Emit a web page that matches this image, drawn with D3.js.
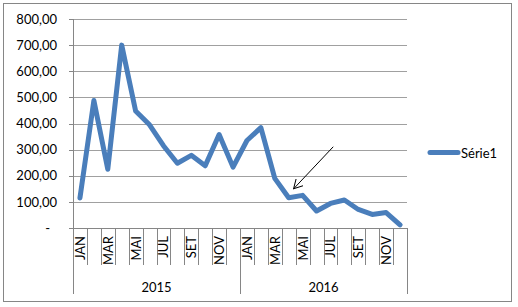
<!DOCTYPE html>
<html>
<head>
<meta charset="utf-8">
<script src="https://cdn.jsdelivr.net/npm/d3@7"></script>
<style>
  html, body { margin: 0; padding: 0; background: #fff; }
  svg text { font-family: Lato, "Liberation Sans", sans-serif; fill: #000; }
</style>
</head>
<body>
<svg id="chart" width="518" height="307"></svg>
<script>
// data
const months = ["JAN","FEV","MAR","ABR","MAI","JUN","JUL","AGO","SET","OUT","NOV","DEZ"];
const years = ["2015", "2016"];
const values2015 = [115, 488, 225, 700, 448, 395, 315, 248, 278, 238, 358, 233];
const values2016 = [335, 384, 190, 116, 125, 65, 94, 107, 71, 52, 59, 12];
const yTicks = [0, 100, 200, 300, 400, 500, 600, 700, 800];
const seriesName = "Série1";
// arrow annotation, in category index / value units
const arrowFrom = { i: 18.7, v: 311 };
const arrowTo = { i: 15.85, v: 150 };

const rows = [];
years.forEach((yr, k) => {
  const vals = k === 0 ? values2015 : values2016;
  months.forEach((m, j) => rows.push({ key: m + " " + yr, month: m, year: yr, idx: k * 12 + j, value: vals[j] }));
});

const svg = d3.select("#chart");
const W = 518, H = 307;
const plot = { left: 73, right: 407, top: 19, bottom: 228 };

// outer frame
svg.append("rect")
  .attr("x", 3.5).attr("y", 3.5)
  .attr("width", 508).attr("height", 298)
  .attr("fill", "#fff")
  .attr("stroke", "#868686");

const x = d3.scaleBand()
  .domain(rows.map(d => d.key))
  .range([plot.left, plot.right])
  .paddingInner(0).paddingOuter(0);

const y = d3.scaleLinear().domain([0, 800]).range([plot.bottom, plot.top]);

// continuous helper over category index (for the annotation)
const xi = d3.scaleLinear()
  .domain([0, rows.length])
  .range([plot.left, plot.right]);

const loc = d3.formatLocale({ decimal: ",", thousands: ".", grouping: [3], currency: ["", ""] });
const fmt = loc.format(",.2f");

// gridlines
svg.append("g")
  .attr("transform", `translate(${plot.left},0)`)
  .call(d3.axisLeft(y).tickValues(yTicks.filter(t => t > 0)).tickSize(-(plot.right - plot.left)).tickFormat(""))
  .call(g => g.select(".domain").remove())
  .call(g => g.selectAll("line").attr("stroke", "#a0a0a0").attr("stroke-width", 1).attr("shape-rendering", "crispEdges"));

// y axis
const yAxis = svg.append("g")
  .attr("transform", `translate(${plot.left},0)`)
  .call(d3.axisLeft(y).tickValues(yTicks).tickSize(4).tickPadding(12)
    .tickFormat(d => d === 0 ? "-" : fmt(d)));
yAxis.select(".domain").attr("stroke", "#868686").attr("shape-rendering", "crispEdges");
yAxis.selectAll("line").attr("stroke", "#868686").attr("shape-rendering", "crispEdges");
yAxis.selectAll("text")
  .attr("font-size", 13)
  .attr("font-family", "Lato, 'Liberation Sans', sans-serif")
  .attr("dx", d => d === 0 ? -7 : 0);

// x axis line
svg.append("line")
  .attr("x1", plot.left - 4).attr("x2", plot.right)
  .attr("y1", plot.bottom).attr("y2", plot.bottom)
  .attr("stroke", "#868686").attr("shape-rendering", "crispEdges");

// category separators
const edges = d3.range(rows.length + 1);
svg.append("g").selectAll("line")
  .data(edges)
  .join("line")
  .attr("x1", i => Math.round(xi(i)) + 0.5)
  .attr("x2", i => Math.round(xi(i)) + 0.5)
  .attr("y1", plot.bottom)
  .attr("y2", i => i % 12 === 0 ? 294 : 265)
  .attr("stroke", "#868686");

// month labels (every other month)
svg.append("g").selectAll("text")
  .data(rows.filter(d => d.idx % 2 === 0))
  .join("text")
  .attr("transform", d => `translate(${x(d.key) + x.bandwidth() / 2},${plot.bottom + 8}) rotate(-90)`)
  .attr("text-anchor", "end")
  .attr("dominant-baseline", "central")
  .attr("font-size", 13)
  .text(d => d.month);

// year labels
svg.append("g").selectAll("text")
  .data(years)
  .join("text")
  .attr("x", (yr, k) => (xi(k * 12) + xi(k * 12 + 12)) / 2)
  .attr("y", 292)
  .attr("text-anchor", "middle")
  .attr("font-size", 13)
  .text(yr => yr);

// series line
const line = d3.line()
  .x(d => x(d.key) + x.bandwidth() / 2)
  .y(d => y(d.value));

svg.append("path")
  .datum(rows)
  .attr("fill", "none")
  .attr("stroke", "#4a7ebb")
  .attr("stroke-width", 5)
  .attr("stroke-linejoin", "round")
  .attr("stroke-linecap", "round")
  .attr("d", line);

// arrow annotation
svg.append("defs").append("marker")
  .attr("id", "arrowhead")
  .attr("viewBox", "0 0 10 10")
  .attr("refX", 9).attr("refY", 5)
  .attr("markerWidth", 10).attr("markerHeight", 10)
  .attr("markerUnits", "userSpaceOnUse")
  .attr("orient", "auto")
  .append("path")
  .attr("d", "M0,0 L9,5 L0,10")
  .attr("fill", "none")
  .attr("stroke", "#000")
  .attr("stroke-width", 1);

svg.append("line")
  .attr("x1", xi(arrowFrom.i)).attr("y1", y(arrowFrom.v))
  .attr("x2", xi(arrowTo.i)).attr("y2", y(arrowTo.v))
  .attr("stroke", "#000")
  .attr("stroke-width", 1)
  .attr("marker-end", "url(#arrowhead)");

// legend
const leg = svg.append("g").attr("transform", "translate(428,152.5)");
leg.append("line")
  .attr("x1", 2).attr("x2", 30)
  .attr("stroke", "#4a7ebb")
  .attr("stroke-width", 5)
  .attr("stroke-linecap", "round");
leg.append("text")
  .attr("x", 33)
  .attr("dominant-baseline", "central")
  .attr("font-size", 13)
  .text(seriesName);
</script>
</body>
</html>
